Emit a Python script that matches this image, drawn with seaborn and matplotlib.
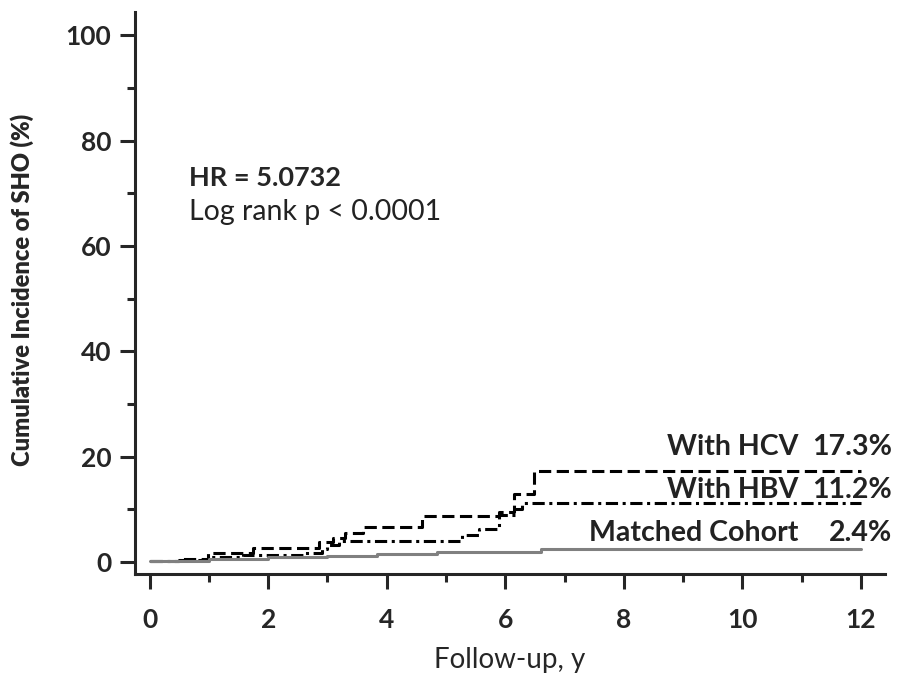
import numpy as np
import pandas as pd
import seaborn as sns
import matplotlib.pyplot as plt
from matplotlib.ticker import MultipleLocator

sns.set_style("ticks")
plt.rcParams["font.family"] = ["Lato", "DejaVu Sans"]

# step curves (years, cumulative incidence %)
hcv_t = [0, 0.5, 0.98, 1.74, 2.86, 3.1, 3.3, 3.6, 4.6, 5.9, 6.15, 6.48, 12]
hcv_y = [0.2, 0.5, 1.7, 2.7, 3.8, 4.6, 5.5, 6.6, 8.7, 9.5, 13.0, 17.3, 17.3]

hbv_t = [0, 0.5, 1.0, 1.57, 2.6, 2.9, 3.0, 3.2, 5.27, 5.55, 5.9, 6.17, 6.28, 12]
hbv_y = [0.2, 0.4, 1.0, 1.3, 1.7, 2.4, 3.2, 4.1, 5.2, 6.2, 8.9, 10.0, 11.2, 11.2]

mc_t = [0, 1.0, 2.0, 3.0, 3.84, 4.85, 6.6, 12]
mc_y = [0.2, 0.6, 0.9, 1.1, 1.45, 1.9, 2.5, 2.5]

groups = ["With HCV", "With HBV", "Matched Cohort"]
final_pct = ["17.3%", "11.2%", "2.4%"]
label_y = [21.8, 13.7, 5.5]

df = pd.concat([
    pd.DataFrame({"t": hcv_t, "ci": hcv_y, "group": groups[0]}),
    pd.DataFrame({"t": hbv_t, "ci": hbv_y, "group": groups[1]}),
    pd.DataFrame({"t": mc_t, "ci": mc_y, "group": groups[2]}),
])

fig = plt.figure(figsize=(8.99, 6.74), dpi=100)
ax = fig.add_axes([0.150, 0.148, 0.834, 0.834])

sns.lineplot(data=df, x="t", y="ci", hue="group", style="group",
             palette={groups[0]: "black", groups[1]: "black", groups[2]: "#808080"},
             dashes={groups[0]: (4, 1.8), groups[1]: (4, 1.5, 1, 1.5), groups[2]: ""},
             hue_order=groups, style_order=groups,
             estimator=None, sort=False, drawstyle="steps-post",
             linewidth=2.2, legend=False, ax=ax)

ax.set_xlim(-0.25, 12.4)
ax.set_ylim(-2.3, 104.4)
ax.xaxis.set_major_locator(MultipleLocator(2))
ax.xaxis.set_minor_locator(MultipleLocator(1))
ax.yaxis.set_major_locator(MultipleLocator(20))
ax.yaxis.set_minor_locator(MultipleLocator(10))

sns.despine(ax=ax)
for s in ["left", "bottom"]:
    ax.spines[s].set_linewidth(2.2)
ax.tick_params(which="major", length=11, width=2.2, labelsize=19)
ax.tick_params(axis="y", which="major", pad=6)
ax.tick_params(axis="x", which="major", pad=13)
ax.tick_params(which="minor", length=6, width=2.2)
for lab in ax.get_xticklabels() + ax.get_yticklabels():
    lab.set_fontweight("bold")

ax.set_xlabel("Follow-up, y", fontsize=20, labelpad=11)
ax.set_ylabel("Cumulative Incidence of SHO (%)", fontsize=17, fontweight="heavy", labelpad=21)
ax.yaxis.set_label_coords(-0.135, 0.505)

ax.text(0.67, 73, "HR = 5.0732", fontsize=19.5, fontweight="bold", va="center")
ax.text(0.67, 66.4, "Log rank p < 0.0001", fontsize=20.5, va="center", color="#222222")

for g, p, y in zip(groups, final_pct, label_y):
    ax.text(10.95, y, g, fontsize=20.5, fontweight="bold", ha="right", va="center", color="#222222")
    ax.text(12.52, y, p, fontsize=20.5, fontweight="bold", ha="right", va="center", color="#222222")

fig.savefig("out.png", dpi=100)
